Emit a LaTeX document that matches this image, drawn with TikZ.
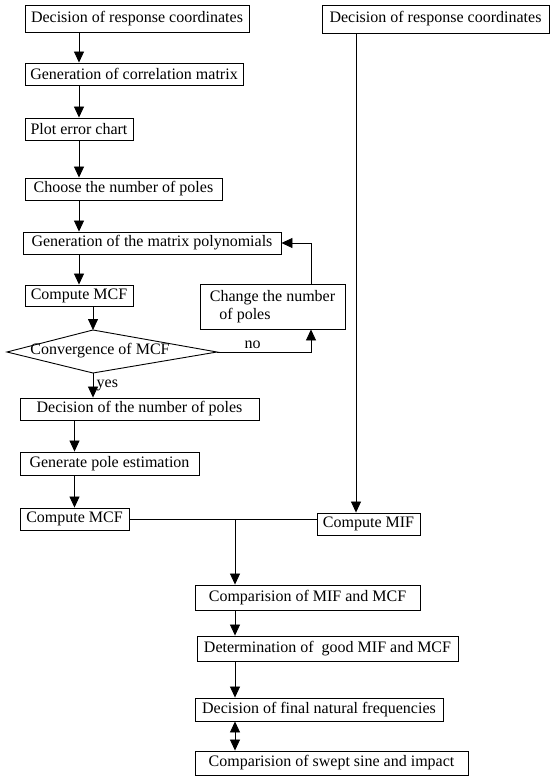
\documentclass[tikz,border=0pt]{standalone}
\usepackage{fontspec}
\setmainfont{Liberation Serif}
\usetikzlibrary{arrows.meta}

\begin{document}
\begin{tikzpicture}[x=1pt,y=-1pt,font=\rmfamily\fontsize{16}{18}\selectfont]
    \tikzset{
      box/.style={draw, line width=0.9pt, inner xsep=2pt, inner ysep=1pt},
      flow/.style={-{Triangle[length=11pt,width=10pt]}, line width=0.8pt},
      dflow/.style={{Triangle[length=11pt,width=10pt]}-{Triangle[length=11pt,width=10pt]}, line width=0.8pt}
    }
    \useasboundingbox (0,0) rectangle (551,776);

    % Left column
    \node[box, minimum width=224pt, minimum height=27pt] (coordA) at (137,18.5) {Decision of response coordinates};
    \node[box, minimum width=218pt, minimum height=22pt] (corr) at (134,74) {Generation of correlation matrix};
    \node[box, minimum width=108pt, minimum height=22pt] (chart) at (79,129) {Plot error chart};
    \node[box, minimum width=197pt, minimum height=22pt] (choose) at (123.5,189) {Choose the number of poles};
    \node[box, minimum width=258pt, minimum height=22pt] (poly) at (152,243) {Generation of the matrix polynomials};
    \node[box, minimum width=108pt, minimum height=21pt] (mcfA) at (79,295.5) {Compute MCF};
    \node[box, minimum width=145pt, minimum height=45pt, align=left] (change) at (272.5,306.5) {Change the number\\\hspace{0.6em}of poles};

    % Convergence test
    \coordinate (conv-n) at (93,330);
    \coordinate (conv-e) at (217,352);
    \coordinate (conv-s) at (93,373);
    \coordinate (conv-w) at (7,352);
    \draw[line width=0.9pt] (conv-n) -- (conv-e) -- (conv-s) -- (conv-w) -- cycle;
    \node (conv) at (100,351) {Convergence of MCF};

    \node[box, minimum width=239pt, minimum height=22pt] (decide) at (139.5,409) {Decision of the number of poles};
    \node[box, minimum width=179pt, minimum height=23pt] (estim) at (109.5,463.5) {Generate pole estimation};
    \node[box, minimum width=109pt, minimum height=22pt] (mcfB) at (74.5,519) {Compute MCF};

    % Right column
    \node[box, minimum width=227pt, minimum height=28pt] (coordB) at (435.5,19) {Decision of response coordinates};
    \node[box, minimum width=103pt, minimum height=22pt] (mif) at (368.5,524) {Compute MIF};

    % Bottom chain
    \node[box, minimum width=225pt, minimum height=25pt] (compA) at (307.5,597.5) {Comparision of MIF and MCF};
    \node[box, minimum width=261pt, minimum height=25pt] (good) at (327.5,648.5) {Determination of~ good MIF and MCF};
    \node[box, minimum width=248pt, minimum height=23pt] (final) at (319,709.5) {Decision of final natural frequencies};
    \node[box, minimum width=273pt, minimum height=24pt] (swept) at (331.5,763) {Comparision of swept sine and impact};

    % Helper positions
    \coordinate (loop) at (311,243);
    \coordinate (drop) at (356,0);
    \coordinate (join) at (235,0);

    % Arrows
    \draw[flow] (coordA.south -| chart.north) -- (corr.north -| chart.north);
    \draw[flow] (corr.south -| chart.north) -- (chart.north);
    \draw[flow] (chart.south) -- (choose.north -| chart.south);
    \draw[flow] (choose.south -| chart.south) -- (poly.north -| chart.south);
    \draw[flow] (poly.south -| mcfA.north) -- (mcfA.north);
    \draw[flow] (mcfA.south -| conv-n) -- (conv-n);
    \draw[flow] (conv-e) -- (conv-e -| loop) node[pos=0.38, above] {no} -- (change.south -| loop);
    \draw[flow] (change.north -| loop) -- (loop) -- (poly.east);
    \draw[flow] (conv-s) -- (decide.north -| conv-s) node[midway, right] {yes};
    \draw[flow] (decide.south -| mcfB.north) -- (estim.north -| mcfB.north);
    \draw[flow] (estim.south -| mcfB.north) -- (mcfB.north);
    \draw[flow] (coordB.south -| drop) -- (mif.north -| drop);
    \draw[line width=0.8pt] (mcfB.east) -- (mcfB.east -| mif.west);
    \draw[flow] (mcfB.east -| join) -- (compA.north -| join);
    \draw[flow] (compA.south -| join) -- (good.north -| join);
    \draw[flow] (good.south -| join) -- (final.north -| join);
    \draw[dflow] (final.south -| join) -- (swept.north -| join);
\end{tikzpicture}
\end{document}
